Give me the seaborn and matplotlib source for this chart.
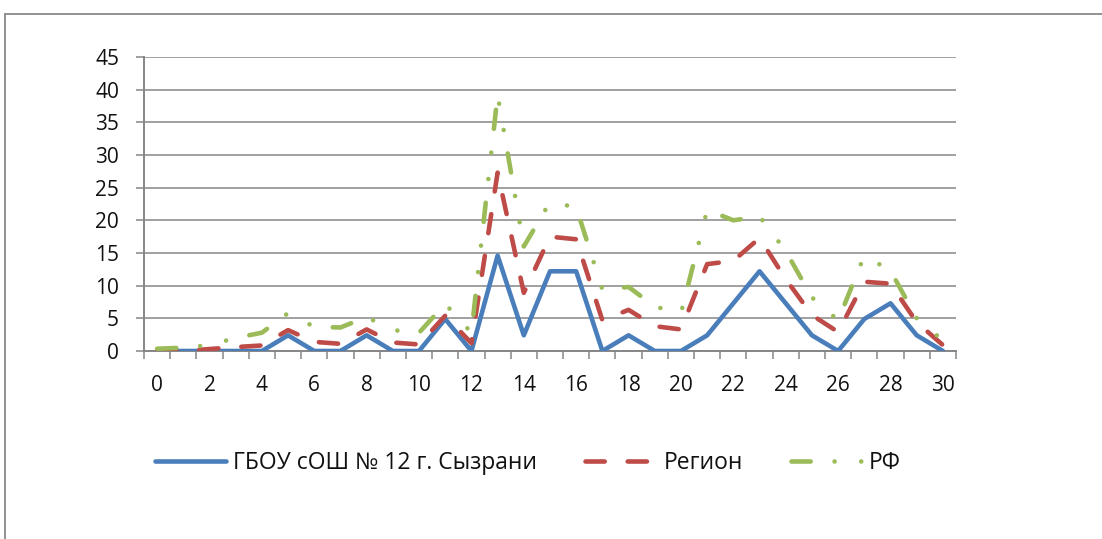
import numpy as np
import pandas as pd
import seaborn as sns
import matplotlib.pyplot as plt
from matplotlib.lines import Line2D

# values
x_vals = list(range(0, 31))
school = [0, 0, 0, 0, 0, 2.4, 0, 0, 2.4, 0, 0, 4.9, 0, 14.6, 2.4, 12.2, 12.2,
          0, 2.4, 0, 0, 2.4, 7.3, 12.2, 7.3, 2.4, 0, 4.9, 7.3, 2.4, 0]
region = [0, 0, 0.3, 0.6, 0.85, 3.2, 1.4, 1.1, 3.3, 1.3, 1.0, 5.4, 1.2, 27.3, 8.9, 17.5, 17.1,
          4.7, 6.3, 3.8, 3.3, 13.3, 13.8, 17.3, 11.0, 5.5, 2.9, 10.6, 10.3, 4.4, 0.9]
rf = [0.35, 0.5, 0.9, 2.0, 2.8, 5.8, 3.7, 3.6, 5.2, 3.2, 2.8, 7.2, 2.8, 39.2, 16.0, 22.8, 22.0,
      9.4, 9.8, 6.8, 5.8, 21.6, 20.0, 20.6, 15.3, 8.2, 4.7, 14.6, 12.3, 5.0, 1.6]
series_names = ["ГБОУ сОШ № 12 г. Сызрани", "Регион", "РФ"]
y_ticks = list(range(0, 50, 5))
x_labels = list(range(0, 31, 2))

colors = {series_names[0]: "#4a7ebb", series_names[1]: "#be4b48", series_names[2]: "#9bbb59"}
dashes = {series_names[0]: "", series_names[1]: (4.2, 5.0),
          series_names[2]: (4.2, 5.2, 0.01, 5.8, 0.01, 5.2)}

df = pd.DataFrame({
    "x": x_vals * 3,
    "value": school + region + rf,
    "series": [series_names[0]] * 31 + [series_names[1]] * 31 + [series_names[2]] * 31,
})

sns.set_style("white")
plt.rcParams["font.family"] = ["Open Sans", "DejaVu Sans"]

fig = plt.figure(figsize=(11.02, 5.39), dpi=100)
ax = fig.add_axes([144 / 1102, 1 - 351 / 539, (956 - 144) / 1102, (351 - 57) / 539])

sns.lineplot(data=df, x="x", y="value", hue="series", style="series",
             palette=colors, dashes=dashes, hue_order=series_names, style_order=series_names,
             linewidth=3.3, ax=ax, legend=True, zorder=3)
for ln in ax.get_lines():
    ln.set_dash_capstyle("round")
    ln.set_solid_capstyle("round")

grid_c = "#868686"
ax.set_xlim(-0.5, 30.5)
ax.set_ylim(0, 45)
ax.set_yticks(y_ticks)
ax.set_xticks(x_labels)
ax.set_xticks(np.arange(-0.5, 31, 1), minor=True)
ax.yaxis.grid(True, color=grid_c, linewidth=1.1)
ax.set_axisbelow(True)
for s in ["top", "right"]:
    ax.spines[s].set_visible(False)
for s in ["left", "bottom"]:
    ax.spines[s].set_color(grid_c)
    ax.spines[s].set_linewidth(1.4)
ax.tick_params(axis="y", which="major", length=6, width=1.1, color=grid_c, pad=12,
               labelsize=15, left=True, labelcolor="#111111")
ax.tick_params(axis="x", which="major", length=0, pad=17, labelsize=15, labelcolor="#111111")
ax.tick_params(axis="x", which="minor", length=6, width=1.1, color=grid_c, bottom=True,
               direction="out")
ax.set_xlabel("")
ax.set_ylabel("")

handles, labels = ax.get_legend_handles_labels()
ax.get_legend().remove()
leg = fig.legend(handles, labels, loc="center", bbox_to_anchor=(528 / 1102, 1 - 463 / 539),
                 ncol=3, frameon=False, fontsize=16.5, handlelength=3.1, handletextpad=0.3,
                 columnspacing=2.1)
for t in leg.get_texts():
    t.set_color("#111111")

# chart-area border (partially visible in the reference)
fig.add_artist(Line2D([5 / 1102, 5 / 1102], [0, 1 - 14 / 539], color="#898989", lw=1.3))
fig.add_artist(Line2D([5 / 1102, 1], [1 - 14 / 539, 1 - 14 / 539], color="#898989", lw=1.3))

fig.savefig("out.png", dpi=100)
